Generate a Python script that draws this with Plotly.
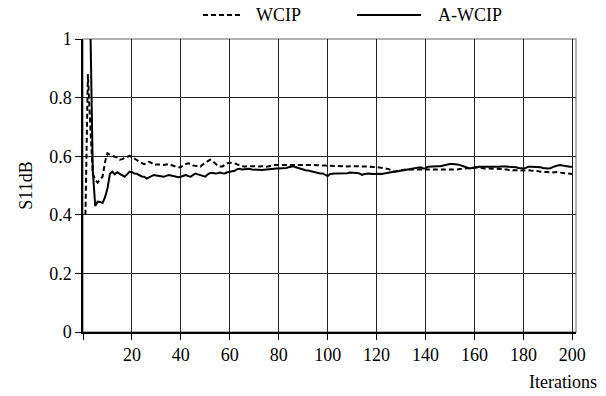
import plotly.graph_objects as go

iterations = list(range(1, 201))

wcip = [
    0.40, 0.88, 0.70, 0.54, 0.52, 0.51, 0.52, 0.53, 0.58, 0.61,
    0.605, 0.600, 0.598, 0.595, 0.588, 0.590, 0.593, 0.597, 0.601, 0.597,
    0.593, 0.587, 0.581, 0.576, 0.573, 0.576, 0.581, 0.577, 0.570, 0.572,
    0.573, 0.572, 0.570, 0.571, 0.573, 0.570, 0.566, 0.564, 0.562, 0.562,
    0.570, 0.573, 0.576, 0.574, 0.568, 0.567, 0.565, 0.564, 0.572, 0.577,
    0.583, 0.588, 0.583, 0.574, 0.568, 0.565, 0.565, 0.571, 0.576, 0.578,
    0.577, 0.576, 0.572, 0.568, 0.566, 0.565, 0.564, 0.565, 0.566, 0.565,
    0.564, 0.565, 0.566, 0.565, 0.564, 0.566, 0.569, 0.570, 0.570, 0.571,
    0.570, 0.570, 0.571, 0.570, 0.570, 0.569, 0.570, 0.570, 0.571, 0.570,
    0.570, 0.569, 0.570, 0.570, 0.569, 0.570, 0.569, 0.568, 0.568, 0.568,
    0.567, 0.567, 0.566, 0.566, 0.566, 0.566, 0.565, 0.566, 0.566, 0.566,
    0.566, 0.565, 0.566, 0.565, 0.565, 0.564, 0.564, 0.564, 0.563, 0.563,
    0.562, 0.561, 0.559, 0.557, 0.556, 0.552, 0.548, 0.549, 0.551, 0.553,
    0.555, 0.555, 0.555, 0.556, 0.555, 0.555, 0.555, 0.554, 0.553, 0.553,
    0.553, 0.553, 0.553, 0.554, 0.555, 0.555, 0.555, 0.555, 0.555, 0.555,
    0.555, 0.555, 0.555, 0.556, 0.557, 0.558, 0.558, 0.559, 0.561, 0.562,
    0.562, 0.561, 0.559, 0.558, 0.558, 0.558, 0.558, 0.558, 0.558, 0.558,
    0.557, 0.556, 0.555, 0.553, 0.551, 0.552, 0.553, 0.552, 0.551, 0.552,
    0.553, 0.552, 0.551, 0.551, 0.551, 0.549, 0.547, 0.547, 0.547, 0.546,
    0.544, 0.545, 0.547, 0.546, 0.544, 0.543, 0.541, 0.540, 0.540, 0.539,
]

a_wcip = [
    1.60, 1.30, 1.05, 0.55, 0.43, 0.445, 0.444, 0.440, 0.460, 0.490,
    0.540, 0.547, 0.538, 0.545, 0.540, 0.535, 0.530, 0.538, 0.547, 0.546,
    0.541, 0.540, 0.536, 0.531, 0.530, 0.524, 0.528, 0.532, 0.536, 0.534,
    0.532, 0.531, 0.530, 0.533, 0.536, 0.534, 0.532, 0.530, 0.528, 0.530,
    0.534, 0.536, 0.532, 0.530, 0.536, 0.541, 0.538, 0.536, 0.532, 0.530,
    0.538, 0.543, 0.543, 0.541, 0.542, 0.544, 0.542, 0.541, 0.545, 0.547,
    0.549, 0.550, 0.556, 0.557, 0.555, 0.556, 0.558, 0.557, 0.555, 0.554,
    0.553, 0.553, 0.553, 0.554, 0.555, 0.556, 0.558, 0.558, 0.558, 0.558,
    0.558, 0.559, 0.560, 0.562, 0.563, 0.566, 0.562, 0.559, 0.556, 0.553,
    0.552, 0.551, 0.549, 0.547, 0.545, 0.542, 0.541, 0.541, 0.536, 0.532,
    0.539, 0.541, 0.541, 0.541, 0.541, 0.542, 0.541, 0.542, 0.544, 0.544,
    0.544, 0.543, 0.541, 0.536, 0.539, 0.541, 0.541, 0.539, 0.540, 0.541,
    0.540, 0.539, 0.541, 0.543, 0.544, 0.545, 0.547, 0.548, 0.549, 0.551,
    0.553, 0.554, 0.555, 0.556, 0.558, 0.559, 0.561, 0.562, 0.558, 0.559,
    0.564, 0.565, 0.566, 0.566, 0.566, 0.566, 0.568, 0.570, 0.572, 0.573,
    0.573, 0.573, 0.572, 0.570, 0.567, 0.564, 0.560, 0.558, 0.560, 0.562,
    0.563, 0.564, 0.564, 0.564, 0.564, 0.563, 0.562, 0.562, 0.563, 0.564,
    0.565, 0.566, 0.565, 0.564, 0.564, 0.563, 0.562, 0.560, 0.558, 0.558,
    0.560, 0.564, 0.564, 0.564, 0.564, 0.563, 0.562, 0.560, 0.558, 0.558,
    0.559, 0.563, 0.566, 0.568, 0.570, 0.568, 0.566, 0.565, 0.564, 0.564,
]

series_names = ["WCIP", "A-WCIP"]

x_tickvals = [0, 20, 40, 60, 80, 100, 120, 140, 160, 180, 200]
x_ticktext = ["", "20", "40", "60", "80", "100", "120", "140", "160", "180", "200"]
y_tickvals = [0, 0.2, 0.4, 0.6, 0.8, 1]
y_ticktext = ["0", "0.2", "0.4", "0.6", "0.8", "1"]

FONT = "Times New Roman, Liberation Serif, Times, serif"
FS = 18
DASH = "5px,3px"

# plot-area geometry (pixels)
L, R, T, B = 83, 30, 39, 64
W, H = 606, 396
PW, PH = W - L - R, H - T - B


def px_x(p):
    return (p - L) / PW


def px_y(p):
    return (H - B - p) / PH


fig = go.Figure()
fig.add_trace(go.Scatter(
    x=iterations, y=wcip, mode="lines", name=series_names[0],
    line=dict(color="black", width=2, dash=DASH),
))
fig.add_trace(go.Scatter(
    x=iterations, y=a_wcip, mode="lines", name=series_names[1],
    line=dict(color="black", width=2),
))

leg_y = px_y(15)
shapes = [
    dict(type="rect", xref="paper", yref="paper", x0=0, x1=1, y0=0, y1=1,
         line=dict(color="#999999", width=1.5), layer="below"),
    dict(type="line", xref="paper", yref="paper", x0=px_x(203), x1=px_x(243),
         y0=leg_y, y1=leg_y, line=dict(color="black", width=2, dash=DASH)),
    dict(type="line", xref="paper", yref="paper", x0=px_x(357), x1=px_x(421),
         y0=leg_y, y1=leg_y, line=dict(color="black", width=2)),
]
annotations = [
    dict(text=series_names[0], xref="paper", yref="paper", x=px_x(254), y=leg_y,
         xanchor="left", yanchor="middle", showarrow=False,
         font=dict(family=FONT, size=FS, color="black")),
    dict(text=series_names[1], xref="paper", yref="paper", x=px_x(436), y=leg_y,
         xanchor="left", yanchor="middle", showarrow=False,
         font=dict(family=FONT, size=FS, color="black")),
    dict(text="Iterations", xref="paper", yref="paper", x=px_x(599), y=px_y(382),
         xanchor="right", yanchor="middle", showarrow=False,
         font=dict(family=FONT, size=FS, color="black")),
]

fig.update_layout(
    width=W, height=H,
    margin=dict(l=L, r=R, t=T, b=B, autoexpand=False),
    paper_bgcolor="white", plot_bgcolor="white",
    font=dict(family=FONT, size=FS, color="black"),
    showlegend=False,
    shapes=shapes,
    annotations=annotations,
)

fig.update_xaxes(
    range=[0, 201.5], tickmode="array", tickvals=x_tickvals, ticktext=x_ticktext,
    showgrid=True, gridcolor="#222222", gridwidth=1,
    showline=True, linecolor="black", linewidth=1.5,
    ticks="outside", ticklen=6, tickcolor="black", tickwidth=1,
    zeroline=False, tickfont=dict(family=FONT, size=FS, color="black"),
)
fig.update_yaxes(
    range=[0, 1], tickmode="array", tickvals=y_tickvals, ticktext=y_ticktext,
    showgrid=True, gridcolor="#222222", gridwidth=1,
    showline=True, linecolor="black", linewidth=1.5,
    ticks="outside", ticklen=6, tickcolor="black", tickwidth=1,
    zeroline=False, tickfont=dict(family=FONT, size=FS, color="black"),
    title=dict(text="S11dB", font=dict(family=FONT, size=FS, color="black"), standoff=12),
)

fig.write_html("out.html", post_script="document.body.style.margin='0px';",
               config={"displayModeBar": False})
